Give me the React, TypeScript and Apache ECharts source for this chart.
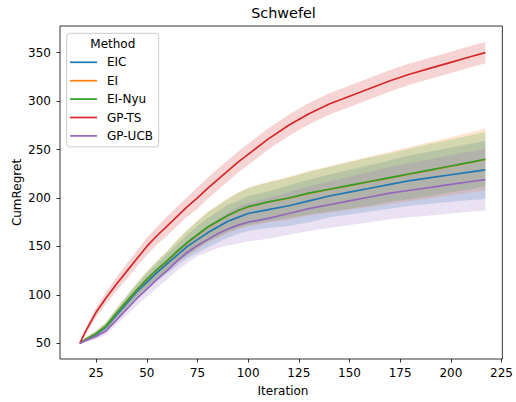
import React, { useEffect, useRef } from "react";
import * as echarts from "echarts";

const iterations = [17, 20, 25, 30, 35, 40, 45, 50, 55, 60, 65, 70, 75, 80, 85, 90, 95, 100, 110, 120, 130, 140, 150, 160, 170, 180, 190, 200, 210, 217];

const eicMean = [50, 54, 59, 67, 79, 91, 103, 113, 123, 132, 141, 150, 157, 164, 170, 176, 180, 184, 188, 192, 197, 202, 206, 210, 214, 218, 221, 224, 227, 229];
const eiMean = [50, 54, 60, 68, 80.8, 92.8, 104.8, 115.8, 125.8, 134.8, 144.8, 153.8, 161.8, 169.8, 175.8, 181.8, 186.8, 190.8, 195.8, 199.8, 204.8, 208.8, 212.8, 216.8, 220.8, 224.8, 228.8, 232.8, 236.8, 239.8];
const eiNyuMean = [50, 54, 60, 68, 81, 93, 105, 116, 126, 135, 145, 154, 162, 170, 176, 182, 187, 191, 196, 200, 205, 209, 213, 217, 221, 225, 229, 233, 237, 240];
const gpTsMean = [50, 63, 82, 97, 111, 124, 137, 150, 161, 171, 181, 191, 200, 210, 219, 228, 237, 245, 261, 275, 287, 297, 305, 313, 321, 328, 334, 340, 346, 350];
const gpUcbMean = [50, 53, 57, 63, 74, 85, 96, 106, 116, 125, 135, 144, 151, 157, 163, 168, 172, 175, 179, 184, 189, 193, 197, 201, 205, 208, 211, 214, 217, 219];

const eicBand = [0.5, 2, 3, 4, 5, 6, 7, 8, 9, 10, 11, 12, 14, 15, 16, 17, 17, 18, 19, 21, 22, 22, 23, 24, 25, 26, 27, 28, 29, 30];
const eiBand = [0.5, 2, 3, 4, 5, 6, 7, 8, 9, 10, 12, 13, 15, 16, 17, 18, 19, 20, 21, 22, 23, 24, 25, 26, 27, 28, 29, 30, 31, 32];
const eiNyuBand = [0.5, 2, 3, 4, 5, 6, 7, 8, 9, 10, 11, 13, 14, 15, 16, 17, 18, 19, 20, 21, 22, 23, 24, 25, 25, 26, 27, 27, 28, 28];
const gpTsBand = [0.5, 3, 5, 6, 7, 8, 8, 9, 9, 10, 10, 10, 11, 11, 11, 11, 11, 11, 11, 11, 11, 11, 11, 11, 11, 11, 11, 11, 11, 11];
const gpUcbBand = [0.5, 2, 3, 4, 5, 6, 7, 8, 9, 9, 10, 11, 11, 13, 15, 17, 19, 20, 21, 22, 23, 24, 25, 26, 27, 28, 29, 30, 31, 32];

const methods = ["EIC", "EI", "EI-Nyu", "GP-TS", "GP-UCB"];
const colors = ["#1f77b4", "#ff7f0e", "#2ca02c", "#d62728", "#9467bd"];
const means = [eicMean, eiMean, eiNyuMean, gpTsMean, gpUcbMean];
const bands = [eicBand, eiBand, eiNyuBand, gpTsBand, gpUcbBand];

const xTicks = [25, 50, 75, 100, 125, 150, 175, 200, 225];
const yTicks = [50, 100, 150, 200, 250, 300, 350];

const FONT = "DejaVu Sans";

export default function App() {
  const ref = useRef<HTMLDivElement>(null);
  useEffect(() => {
    document.body.style.margin = "0";
    const chart = echarts.init(ref.current!, null, { renderer: "svg" });
    const series: any[] = [];
    methods.forEach((name, k) => {
      const bandData = iterations.map((x, i) => [x, means[k][i] - bands[k][i], means[k][i] + bands[k][i]]);
      series.push({
        type: "custom",
        name: name + " band",
        data: bandData,
        encode: { x: 0, y: [1, 2] },
        renderItem: (params: any, api: any) => {
          if (params.dataIndex !== 0) return null;
          const upper = bandData.map((d) => api.coord([d[0], d[2]]));
          const lower = bandData.map((d) => api.coord([d[0], d[1]])).reverse();
          return {
            type: "polygon",
            shape: { points: upper.concat(lower) },
            style: { fill: colors[k], opacity: 0.2 },
          };
        },
        silent: true,
      });
      series.push({
        type: "line",
        name,
        data: iterations.map((x, i) => [x, means[k][i]]),
        symbol: "none",
        lineStyle: { color: colors[k], width: 1.7 },
        itemStyle: { color: colors[k] },
      });
    });
    chart.setOption({
      animation: false,
      textStyle: { fontFamily: FONT },
      grid: {
        left: 60,
        right: 10,
        top: 26,
        bottom: 43,
        show: true,
        borderColor: "#000",
        borderWidth: 0.8,
        backgroundColor: "transparent",
      },
      xAxis: {
        type: "value",
        min: 7.2,
        max: 225.4,
        axisLine: { show: false },
        splitLine: { show: false },
        axisTick: { show: true, length: 3.5, lineStyle: { color: "#000", width: 0.8 }, customValues: xTicks },
        axisLabel: { color: "#000", fontSize: 12, fontFamily: FONT, margin: 8, customValues: xTicks },
      },
      yAxis: {
        type: "value",
        min: 33.8,
        max: 377.5,
        axisLine: { show: false },
        splitLine: { show: false },
        axisTick: { show: true, length: 3.5, lineStyle: { color: "#000", width: 0.8 }, customValues: yTicks },
        axisLabel: { color: "#000", fontSize: 12, fontFamily: FONT, margin: 9, customValues: yTicks },
      },
      legend: {
        data: methods,
        orient: "vertical",
        left: 66.7,
        top: 33.3,
        padding: [22, 5.7, 4, 3.3],
        itemWidth: 27,
        itemHeight: 1.7,
        itemGap: 4.4,
        icon: "rect",
        selectedMode: false,
        backgroundColor: "rgba(255,255,255,0.8)",
        borderColor: "#cccccc",
        borderWidth: 1,
        borderRadius: 3,
        textStyle: { color: "#000", fontSize: 12, fontFamily: FONT, lineHeight: 14, padding: [0, 0, 0, 5] },
      },
      graphic: [
        { type: "text", x: 283.5, y: 13, z: 100, style: { text: "Schwefel", fill: "#000", font: `14.4px ${FONT}`, textAlign: "center", textVerticalAlign: "middle" } },
        { type: "text", x: 112.8, y: 44, z: 100, style: { text: "Method", fill: "#000", font: `12px ${FONT}`, textAlign: "center", textVerticalAlign: "middle" } },
        { type: "text", x: 283, y: 391, z: 100, style: { text: "Iteration", fill: "#000", font: `12px ${FONT}`, textAlign: "center", textVerticalAlign: "middle" } },
        { type: "text", x: 17, y: 192.5, rotation: Math.PI / 2, z: 100, style: { text: "CumRegret", fill: "#000", font: `12px ${FONT}`, textAlign: "center", textVerticalAlign: "middle" } },
      ],
      series,
    });
    return () => chart.dispose();
  }, []);
  return <div ref={ref} style={{ width: 516, height: 402, position: "absolute", left: 0, top: 0 }} />;
}
